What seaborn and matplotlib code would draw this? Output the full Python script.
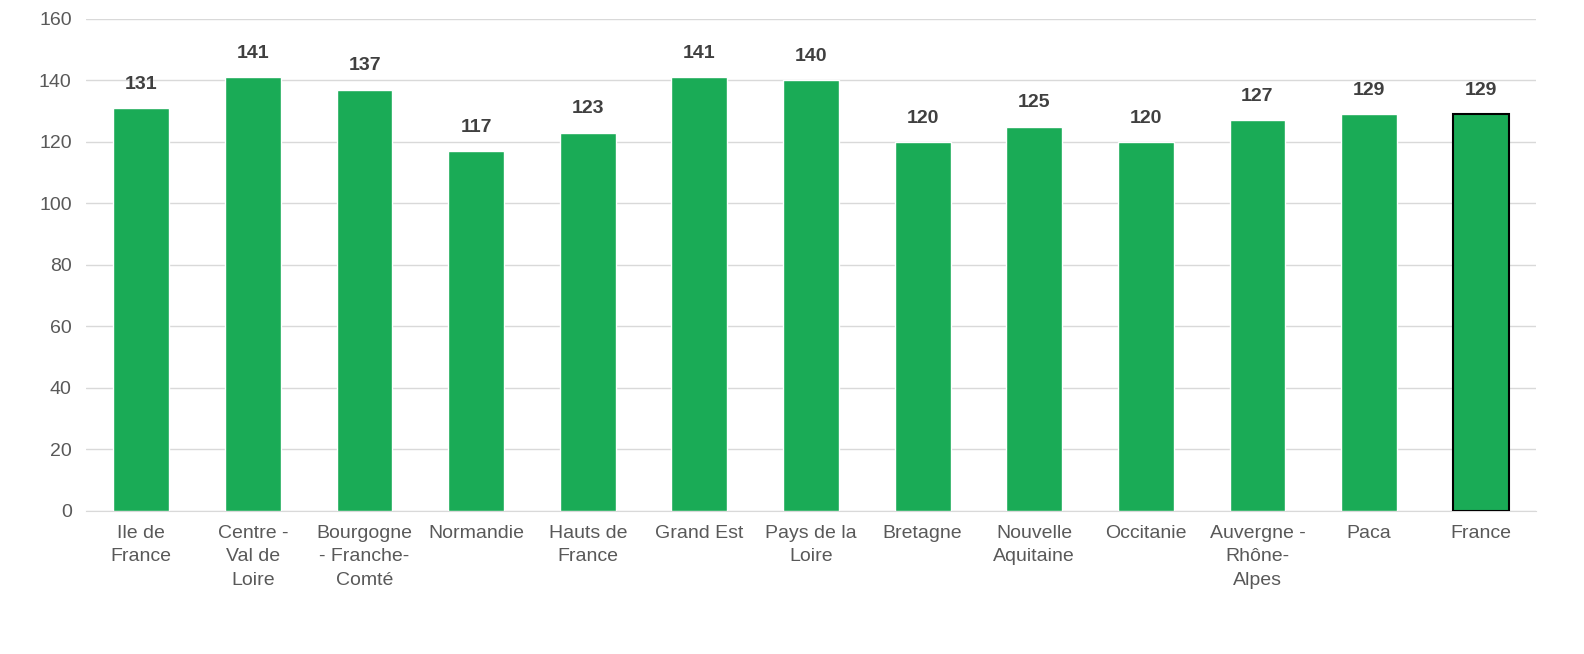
import matplotlib
matplotlib.use("Agg")
import matplotlib.pyplot as plt
import seaborn as sns
import pandas as pd

# Données
regions = ["Ile de\nFrance", "Centre -\nVal de\nLoire", "Bourgogne\n- Franche-\nComté", "Normandie",
           "Hauts de\nFrance", "Grand Est", "Pays de la\nLoire", "Bretagne", "Nouvelle\nAquitaine",
           "Occitanie", "Auvergne -\nRhône-\nAlpes", "Paca", "France"]
valeurs = [131, 141, 137, 117, 123, 141, 140, 120, 125, 120, 127, 129, 129]

df = pd.DataFrame({"region": regions, "valeur": valeurs})

sns.set_style("white")
plt.rcParams['font.family'] = ['Liberation Sans', 'DejaVu Sans']

fig = plt.figure(figsize=(15.84, 6.54), dpi=100)
ax = fig.add_axes([0.054, 0.219, 0.916, 0.752])

sns.barplot(data=df, x="region", y="valeur", color="#1aab56", saturation=1, width=0.5, ax=ax, zorder=3)

# Contour noir pour la barre France
ax.patches[-1].set_edgecolor("black")
ax.patches[-1].set_linewidth(1.5)

for i, v in enumerate(valeurs):
    ax.text(i, v + 5, f"{v}", ha="center", va="bottom", fontsize=14, fontweight="bold", color="#404040")

ax.set_ylim(0, 160)
ax.set_yticks(range(0, 161, 20))
ax.grid(axis="y", color="#d9d9d9", linewidth=1, zorder=0)
ax.set_xlabel("")
ax.set_ylabel("")
for s in ["top", "right", "left"]:
    ax.spines[s].set_visible(False)
ax.spines["bottom"].set_color("#d9d9d9")
ax.tick_params(axis="both", length=0, labelsize=14, colors="#595959", pad=10)
for lab in ax.get_xticklabels():
    lab.set_linespacing(1.5)
ax.set_xlim(-0.5, len(regions) - 0.5)

plt.savefig("out.png", dpi=100)
plt.close()
